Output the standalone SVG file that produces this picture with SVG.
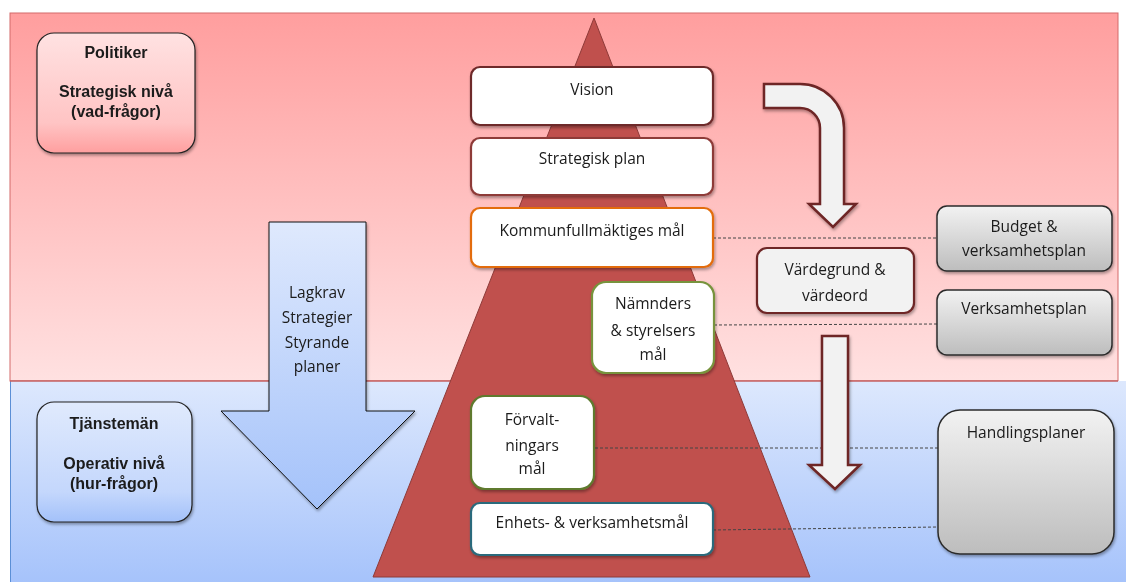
<svg xmlns="http://www.w3.org/2000/svg" width="1126" height="582" viewBox="0 0 1126 582">
<defs>
<linearGradient id="gRed" x1="0" y1="0" x2="0" y2="1"><stop offset="0" stop-color="#ff9e9e"/><stop offset="1" stop-color="#ffe1e1"/></linearGradient>
<linearGradient id="gBlue" x1="0" y1="0" x2="0" y2="1"><stop offset="0" stop-color="#dde8fd"/><stop offset="1" stop-color="#a6c3fb"/></linearGradient>
<linearGradient id="gPol" x1="0" y1="0" x2="0" y2="1"><stop offset="0" stop-color="#ffe2e2"/><stop offset="0.75" stop-color="#ffc4c4"/><stop offset="1" stop-color="#ff9f9f"/></linearGradient>
<linearGradient id="gTj" x1="0" y1="0" x2="0" y2="1"><stop offset="0" stop-color="#e0eafd"/><stop offset="0.75" stop-color="#c4d7fc"/><stop offset="1" stop-color="#a3c1fa"/></linearGradient>
<linearGradient id="gArrow" x1="0" y1="0" x2="0" y2="1"><stop offset="0" stop-color="#dfe9fd"/><stop offset="1" stop-color="#a4c2fa"/></linearGradient>
<linearGradient id="gGray" x1="0" y1="0" x2="0" y2="1"><stop offset="0" stop-color="#f2f2f2"/><stop offset="1" stop-color="#bdbdbd"/></linearGradient>
<filter id="sh" x="-10%" y="-10%" width="125%" height="130%"><feDropShadow dx="1" dy="2" stdDeviation="1.6" flood-color="#000" flood-opacity="0.35"/></filter>
</defs>
<style>
.t{font-family:"Open Sans","Liberation Sans",sans-serif;font-size:15.5px;fill:#1a1a1a;text-anchor:middle}
.b{font-family:"Liberation Sans",Arial,sans-serif;font-size:16px;font-weight:bold;fill:#1a1a1a;text-anchor:middle}
.white{fill:#ffffff;stroke-width:2.2}
.dash{fill:none;stroke:#444;stroke-width:1;stroke-dasharray:3 2}
.gray{fill:url(#gGray);stroke:#2b2b2b;stroke-width:1.5}
.dr{fill:#f2f2f2;stroke:#6e2525;stroke-width:2.5}
</style>
<rect x="0" y="0" width="1126" height="582" fill="#ffffff"/>
<g id="bands">
<rect x="10" y="13" width="1108" height="368" fill="url(#gRed)" stroke="#d46a6a" stroke-width="1"/>
<rect x="10" y="381" width="1116" height="201" fill="url(#gBlue)"/>
<line x1="10.5" y1="381" x2="10.5" y2="582" stroke="#5b8fd6" stroke-width="1"/>
<line x1="10" y1="381" x2="1118" y2="381" stroke="#c46060" stroke-width="1.5"/>
</g>
<g id="pyramid"><polygon points="594,18 810,577 373,577" fill="#c0504d" stroke="#8e3a38" stroke-width="1"/></g>
<g id="connectors">
<path class="dash" d="M713,238 L937,238"/>
<path class="dash" d="M714,325 L937,324"/>
<path class="dash" d="M595,448 L938,448"/>
<path class="dash" d="M713,530 L938,527"/>
</g>
<g id="politiker" filter="url(#sh)">
<rect x="37" y="33" width="158" height="120" rx="17" fill="url(#gPol)" stroke="#222" stroke-width="1.2"/>
<text class="b" x="116" y="58">Politiker</text>
<text class="b" x="116" y="97">Strategisk nivå</text>
<text class="b" x="116" y="117">(vad-frågor)</text>
</g>
<g id="tjanstemän" filter="url(#sh)">
<rect x="37" y="402" width="155" height="120" rx="17" fill="url(#gTj)" stroke="#222" stroke-width="1.2"/>
<text class="b" x="114" y="429">Tjänstemän</text>
<text class="b" x="114" y="469">Operativ nivå</text>
<text class="b" x="114" y="489">(hur-frågor)</text>
</g>
<g id="lagkrav" filter="url(#sh)">
<polygon points="269,222 366,222 366,411 415,411 317,509 221,411 269,411" fill="url(#gArrow)" stroke="#111" stroke-width="1"/>
<text class="t" x="317" y="298">Lagkrav</text>
<text class="t" x="317" y="323">Strategier</text>
<text class="t" x="317" y="348">Styrande</text>
<text class="t" x="317" y="372">planer</text>
</g>
<g id="vision" filter="url(#sh)">
<rect class="white" x="471" y="67" width="242" height="58" rx="9" stroke="#6e2a2a"/>
<text class="t" x="592" y="95">Vision</text>
</g>
<g id="strategisk-plan" filter="url(#sh)">
<rect class="white" x="471" y="138" width="242" height="57" rx="9" stroke="#8e3a38"/>
<text class="t" x="592" y="164">Strategisk plan</text>
</g>
<g id="kommunfullmaktiges-mal" filter="url(#sh)">
<rect class="white" x="471" y="208" width="242" height="59" rx="9" stroke="#e36c0a"/>
<text class="t" x="592" y="236">Kommunfullmäktiges mål</text>
</g>
<g id="namnders-mal" filter="url(#sh)">
<rect class="white" x="592" y="282" width="122" height="91" rx="14" stroke="#77933c"/>
<text class="t" x="653" y="309">Nämnders</text>
<text class="t" x="653" y="336">&amp; styrelsers</text>
<text class="t" x="653" y="360">mål</text>
</g>
<g id="forvaltningars-mal" filter="url(#sh)">
<rect class="white" x="471" y="396" width="123" height="93" rx="14" stroke="#5f7a2e"/>
<text class="t" x="532" y="425">Förvalt-</text>
<text class="t" x="532" y="451">ningars</text>
<text class="t" x="532" y="474">mål</text>
</g>
<g id="enhets-mal" filter="url(#sh)">
<rect class="white" x="471" y="503" width="242" height="52" rx="9" stroke="#2b6a7c"/>
<text class="t" x="592" y="528">Enhets- &amp; verksamhetsmål</text>
</g>
<g id="curved-arrow" filter="url(#sh)">
<path class="dr" d="M764,84 L800,84 A44,44 0 0 1 844,128 L844,204 L856,204 L833,227 L809,204 L820,204 L820,128 A20,20 0 0 0 800,108 L764,108 Z"/>
</g>
<g id="down-arrow" filter="url(#sh)">
<path class="dr" d="M822,336 L848,336 L848,465 L860,465 L835,489 L809,465 L822,465 Z"/>
</g>
<g id="vardegrund" filter="url(#sh)">
<rect x="757" y="248" width="157" height="65" rx="10" fill="#f2f2f2" stroke="#6e2525" stroke-width="2.2"/>
<text class="t" x="835" y="275">Värdegrund &amp;</text>
<text class="t" x="835" y="301">värdeord</text>
</g>
<g id="budget" filter="url(#sh)">
<rect class="gray" x="937" y="206" width="175" height="65" rx="10"/>
<text class="t" x="1024" y="232">Budget &amp;</text>
<text class="t" x="1024" y="256">verksamhetsplan</text>
</g>
<g id="verksamhetsplan" filter="url(#sh)">
<rect class="gray" x="937" y="290" width="175" height="65" rx="10"/>
<text class="t" x="1024" y="314">Verksamhetsplan</text>
</g>
<g id="handlingsplaner" filter="url(#sh)">
<rect class="gray" x="938" y="410" width="176" height="144" rx="22"/>
<text class="t" x="1026" y="438">Handlingsplaner</text>
</g>
</svg>
